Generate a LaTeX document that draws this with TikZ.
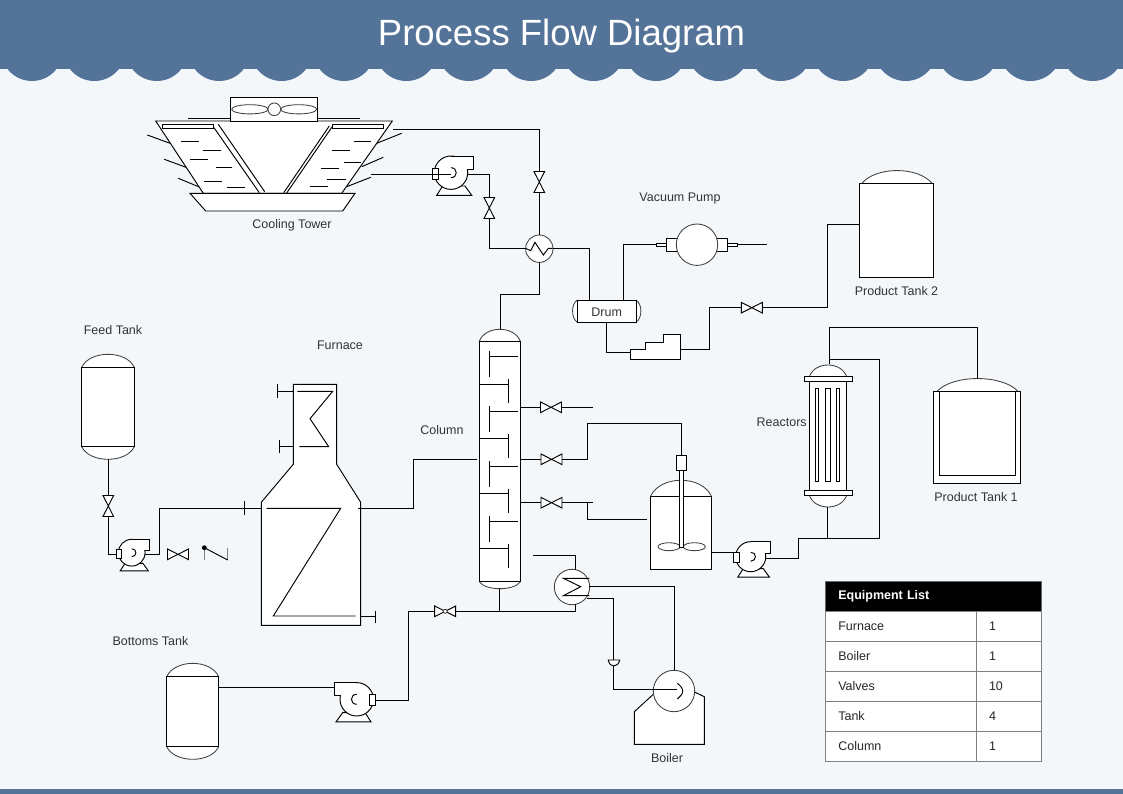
\documentclass[tikz,border=0pt]{standalone}
\usepackage{fontspec}
\setmainfont{Liberation Sans}
\definecolor{headblue}{HTML}{547398}
\definecolor{paper}{HTML}{F4F7FA}
\newcommand{\vdome}[4]{\draw[domeline] (#1) .. controls +(#3,#4) and +(-#3,#4) .. (#2);}
\tikzset{
  pipe/.style={line width=.95pt,black},
  part/.style={line width=.95pt,draw=black,fill=white},
  domeline/.style={line width=.85pt,draw=black!75,fill=white},
  vessel/.style={rectangle,line width=.95pt,draw=black,fill=white,inner sep=0pt,outer sep=0pt,font=\fontsize{12.5}{15}\selectfont,text=black!80},
  disc/.style={circle,line width=.85pt,draw=black!75,fill=white,inner sep=0pt,outer sep=0pt},
  lbl/.style={inner sep=0pt,yshift=-1pt,font=\fontsize{12.5}{15}\selectfont,text=black!80},
  tblcell/.style={rectangle,draw=black!50,line width=.8pt,fill=white,inner ysep=0pt,outer sep=0pt,minimum height=30pt,anchor=north west,align=left,font=\fontsize{12.5}{15}\selectfont,text=black!85},
  valve/.pic={
    \draw[part] (-10.5,-5.3) -- (10.5,5.3) -- (10.5,-5.3) -- (-10.5,5.3) -- cycle;
    \coordinate (-a) at (-10.5,0);
    \coordinate (-b) at (10.5,0);
  },
  pump/.pic={
    \draw[part] (-8.3,13.3) -- (-14.3,22.6) -- (20.7,22.6) -- (14,13.3) -- cycle;
    \draw[part] (0,0) circle (16.7pt);
    \fill[white] (.4,-16.3) rectangle (22,-3.6);
    \draw[pipe,fill=white] (0,-16.7) -- (22.3,-16.7) -- (22.3,-3.4) -- (16,-3.4);
    \draw[pipe] (0,-5) .. controls (7,-5) and (7,5) .. (0,5);
    \draw[part] (-18.7,-4.4) rectangle (-12.7,6.6);
    \coordinate (-in) at (-18.7,1.6);
    \coordinate (-mid) at (0,1.6);
    \coordinate (-out) at (16.7,1.6);
    \coordinate (-top) at (-16,-5);
    \coordinate (-dis) at (22.3,-11.6);
  },
  vacpump/.pic={
    \draw[part] (-40.7,-1.7) rectangle (-30.3,1.7);
    \draw[part] (40.7,-1.7) rectangle (30.3,1.7);
    \draw[part] (-30.3,-6.6) rectangle (-15,6.6);
    \draw[part] (30.3,-6.6) rectangle (15,6.6);
    \draw[domeline] (0,0) circle (20.7pt);
    \coordinate (-in) at (-40.7,0);
    \coordinate (-out) at (40.7,0);
  }
}
\begin{document}
\begin{tikzpicture}[x=1pt,y=-1pt]
\useasboundingbox (0,0) rectangle (1123,794);
\fill[paper] (0,0) rectangle (1123,794);
% banner
\fill[headblue] (0,0) rectangle (1123,69);
\foreach \k in {0,...,17} {\fill[headblue] ({32+62.4*\k},50) circle (31pt);}
\fill[headblue] (0,788.7) rectangle (1123,794);
\node[inner sep=0pt,text=white,font=\fontsize{36.5}{40}\selectfont] (ttlA) at (561.5,36) {Process Flow Diagram};
% cooling tower
\draw[pipe] (188,118.3) -- (360,118.3);
\draw[part] (155.7,121) -- (392.3,121) -- (341.7,193.3) -- (203.3,193.3) -- cycle;
\draw[part] (230.3,97.3) rectangle (317.7,121);
\draw[domeline] (249.9,109.3) ellipse (18.2pt and 4.6pt);
\draw[domeline] (298.7,109.3) ellipse (18pt and 4.6pt);
\draw[domeline] (274.3,109.3) circle (6.3pt);
\draw[part] (162.3,124.3) rectangle (213.3,128.3);
\draw[part] (332.7,124.3) rectangle (383.3,128.3);
\draw[pipe] (214,127.7) -- (259.3,192.7) (218.3,124.3) -- (264.7,191.7);
\draw[pipe] (332.7,126) -- (286.7,193) (329.3,126) -- (283.7,192.7);
\foreach \xa/\xb/\yy in {181/198.7/141.3,203.3/220.7/150.3,190/207.7/159.3,215.7/232.3/167.3,204.3/221.7/181,227.3/244.7/187.3,
  353.7/371.3/141.3,331.7/349.7/150.3,343.7/360.7/162,321.3/338.7/168.3,327.3/345.7/179.3,310/327.7/186.3}
  {\draw[pipe] (\xa,\yy) -- (\xb,\yy);}
\foreach \xa/\ya/\xb/\yb in {147.3/135/170/143.3,164.3/159.3/186/167.3,178.3/178.3/200/187.3,
  401.7/133.3/376.7/143.3,383.3/157.3/361.7/166.7,370.7/177.3/346.7/186.7}
  {\draw[pipe] (\xa,\ya) -- (\xb,\yb);}
\draw[part] (190,193.3) -- (355,193.3) -- (342.7,211) -- (205.7,211) -- cycle;
\coordinate (twrA) at (393.3,129.3);
\coordinate (twrB) at (370.7,174.3);
\node[lbl] (lblTwr) at (292,224.5) {Cooling Tower};
% equipment along the top
\pic (pumpA) at (451,172.7) {pump};
\pic[rotate=90] (valA) at (539.3,182) {valve};
\pic[rotate=90] (valB) at (489.3,208) {valve};
\node[disc,minimum size=27.4pt] (hxA) at (539.3,248.7) {};
\draw[pipe] (526,248.5) -- (530.7,250.7) -- (535,242.3) -- (543.3,255) -- (548.3,248.3) -- (552.7,248.3);
\draw[domeline] (577.3,300) .. controls (571,304) and (571,318) .. (577.3,322.3);
\draw[domeline] (636,300) .. controls (642.5,304) and (642.5,318) .. (636,322.3);
\node[vessel,minimum width=58.7pt,minimum height=22.3pt,text height=11pt,text depth=.4pt] (drmA) at (606.65,311.15) {Drum};
\coordinate (drmL) at (589.3,300);
\coordinate (drmR) at (623.7,300);
\pic (vacA) at (697,244.7) {vacpump};
\coordinate (vacZ) at (767.3,244.7);
\node[lbl] (lblVac) at (680,197.5) {Vacuum Pump};
\draw[part] (630.7,349.7) -- (645.7,349.7) -- (645.7,342.7) -- (663.7,342.7) -- (663.7,334.7) -- (680.3,334.7) -- (680.3,359.3) -- (630.7,359.3) -- cycle;
\coordinate (stpL) at (630.7,352);
\coordinate (stpR) at (680.3,349.3);
\pic (valD) at (751.8,307.7) {valve};
% product tanks
\vdome{862,183.3}{932,183.3}{14}{-17}
\node[vessel,minimum width=74pt,minimum height=94pt] (tnkB) at (896.3,230.3) {};
\coordinate (tnkBin) at (859.3,224.3);
\node[lbl] (lblTnkB) at (896.5,290.5) {Product Tank 2};
\vdome{937,391.3}{1018,391.3}{16}{-17}
\node[vessel,minimum width=87.4pt,minimum height=92pt] (tnkA) at (977,437.3) {};
\draw[part] (939.3,391.3) rectangle (1015.7,475.3);
\coordinate (tnkAt) at (977.3,378.7);
\node[lbl] (lblTnkA) at (976,496.5) {Product Tank 1};
% reactor
\vdome{809.3,377}{846.7,377}{5}{-16}
\vdome{809.3,495}{846.7,495}{5}{16}
\node[vessel,minimum width=37.4pt,minimum height=110pt] (rctA) at (828,436) {};
\draw[part] (804.3,376.7) rectangle (852.3,381.3);
\draw[part] (804.3,490.7) rectangle (852.3,495.3);
\foreach \xa/\xb in {815.3/818.7,825.3/830.7,836.3/839.7} {\draw[part] (\xa,388.3) rectangle (\xb,481.3);}
\coordinate (rctT) at (829.3,364.3);
\coordinate (rctS) at (829.3,359.3);
\coordinate (rctB) at (827.3,507.3);
\coordinate (rctK) at (879.3,538.3);
\coordinate (rctJ) at (798.3,538.3);
\node[lbl] (lblRct) at (781.7,421.3) {Reactors};
% mixer
\vdome{650.7,496}{711.3,496}{10}{-21}
\node[vessel,minimum width=60.6pt,minimum height=73.3pt] (mixA) at (681,532.65) {};
\draw[domeline] (669,546.7) ellipse (11pt and 4pt);
\draw[domeline] (694.3,546.7) ellipse (11pt and 4pt);
\draw[part] (679.3,470.3) rectangle (683.7,547.3);
\node[vessel,minimum width=10.4pt,minimum height=15pt] (mtrA) at (681.5,462.8) {};
\coordinate (mixT) at (587.3,423.3);
\coordinate (mixB) at (587.3,502.7);
\coordinate (mixL) at (646.7,519.3);
\pic[scale=.9] (pumpE) at (750.7,556.7) {pump};
% column
\vdome{479.3,341.3}{520.3,341.3}{6}{-16}
\vdome{479.3,581.7}{520.3,581.7}{6}{9.3}
\node[vessel,minimum width=41pt,minimum height=240.4pt] (colA) at (499.8,461.5) {};
\foreach \k [evaluate=\k as \ya using 356+55*\k, evaluate=\k as \yb using 384+54.9*\k] in {0,1,2,3} {
  \draw[pipe] (489.3,\ya-5) -- ++(0,25.7) (489.3,\ya) -- (518.3,\ya);
  \draw[pipe] (479.3,\yb) -- (508.7,\yb) (508.7,\yb-4.7) -- ++(0,24);
}
\coordinate (colT) at (500.3,329.3);
\coordinate (colB) at (499.7,588.7);
\coordinate (colL) at (476.7,459.3);
\node[lbl] (lblCol) at (442,429.3) {Column};
\pic (valF) at (551,407.3) {valve};
\pic (valE) at (551.5,459.3) {valve};
\pic (valC) at (551.5,502.7) {valve};
\coordinate (valFz) at (593.3,407.3);
\coordinate (valCz) at (593.3,502.7);
% feed side
\vdome{81.7,367.3}{134.3,367.3}{8}{-17.3}
\vdome{81.7,446.7}{134.3,446.7}{8}{16.8}
\node[vessel,minimum width=52.6pt,minimum height=79.4pt] (tnkC) at (108,407) {};
\coordinate (tnkCb) at (108.3,459.3);
\node[lbl] (lblTnkC) at (113,329.3) {Feed Tank};
\pic[rotate=90] (valH) at (108.3,506) {valve};
\pic[scale=.8] (pumpB) at (131.7,552.7) {pump};
\pic (valJ) at (178,554.3) {valve};
\draw[black!50,line width=.8pt] (204.3,547.7) -- (204.3,560) (227.7,548.3) -- (227.7,560);
\draw[pipe] (204.3,547.7) -- (227.7,560);
\fill[black] (204.3,547.7) circle (2.4pt);
% furnace
\draw[part] (293.3,384.3) -- (336.7,384.3) -- (336.7,464.3) -- (360.7,502.3) -- (360.7,625.3) -- (261.3,625.3) -- (261.3,502.3) -- (293.3,464.3) -- cycle;
\draw[pipe] (297.3,391.3) -- (332.7,391.3) -- (310,418.7) -- (328.7,446.7) -- (299.3,446.7);
\draw[pipe] (266.7,508.3) -- (340.7,508.3) -- (273.3,616) -- (355.7,616);
\draw[pipe] (293.3,391.7) -- (277.3,391.7) (277.3,384.3) -- (277.3,398.3);
\draw[pipe] (293.3,446.7) -- (279,446.7) (279,439.7) -- (279,453.3);
\draw[pipe] (360.7,616) -- (375.3,616) (375.3,610.7) -- (375.3,623.3);
\draw[pipe] (244.3,501) -- (244.3,515.3);
\coordinate (furW) at (261.3,508.3);
\coordinate (furE) at (358.3,508.3);
\node[lbl] (lblFur) at (340,344.3) {Furnace};
% bottoms side
\vdome{166.7,676.7}{218.7,676.7}{8}{-17.8}
\vdome{166.7,746.7}{218.7,746.7}{8}{16.8}
\node[vessel,minimum width=52pt,minimum height=70pt] (tnkD) at (192.7,711.7) {};
\node[lbl] (lblTnkD) at (150.5,640.5) {Bottoms Tank};
\pic[xscale=-1] (pumpC) at (356.7,699.3) {pump};
\pic (valG) at (445.2,611.3) {valve};
\node[disc,minimum size=4pt] (valGc) at (445.2,611.3) {};
% reboiler and boiler
\node[disc,minimum size=35.4pt] (hxB) at (572,587) {};
\draw[pipe] (589.3,578.3) -- (563.3,578.3) -- (580.7,586.7) -- (563.3,595.7) -- (589.3,595.7);
\coordinate (hxBt) at (575.5,570);
\coordinate (hxBb) at (575.5,604);
\coordinate (hxBf) at (533.3,555.3);
\coordinate (hxBr) at (589.3,586);
\coordinate (hxBs) at (586.7,598.3);
\draw[part] (653.3,694.3) -- (634.3,711.7) -- (634.3,744.3) -- (704.3,744.3) -- (704.3,696.7) -- (695,692.3);
\node[disc,minimum size=41.4pt] (blrA) at (674,691) {};
\draw[pipe] (677.3,683.3) .. controls (681,686) and (683,689) .. (682.7,691.7) .. controls (682.5,694) and (680,697) .. (677.3,699);
\coordinate (blrC) at (676.7,689.3);
\node[lbl] (lblBlr) at (667,757.5) {Boiler};
\coordinate (trpA) at (613.7,660);
\coordinate (trpB) at (613.7,666);
\draw[part] (608.3,660) -- (619.7,660) .. controls (619,664) and (616,666) .. (613.7,666) .. controls (611,666) and (609,664) .. (608.3,660) -- cycle;
% pipes
\draw[pipe] (twrB) -- (pumpA-mid);
\draw[pipe] (pumpA-out) -| (valB-b);
\draw[pipe] (valB-a) |- (hxA.west);
\draw[pipe] (hxA.north) -- (valA-a);
\draw[pipe] (valA-b) |- (twrA);
\draw[pipe] (hxA.south) -- ++(0,31.6) -| (colT);
\draw[pipe] (hxA.east) -| (drmL);
\draw[pipe] (drmR) |- (vacA-in);
\draw[pipe] (vacA-out) -- (vacZ);
\draw[pipe] (drmA.south) |- (stpL);
\draw[pipe] (stpR) -- ++(29,0) |- (valD-a);
\draw[pipe] (valD-b) -- ++(65.5,0) |- (tnkBin);
\draw[pipe] (tnkAt) -- ++(0,-51.4) -| (rctT);
\draw[pipe] (rctS) -| (rctK) -- (rctJ) |- (pumpE-out);
\draw[pipe] (rctB) -- (rctB |- rctJ);
\draw[pipe] (pumpE-top -| mixA.east) -- (pumpE-top);
\draw[pipe] (colA.east |- valF-a) -- (valF-a);
\draw[pipe] (valF-b) -- (valFz);
\draw[pipe] (colA.east |- valE-a) -- (valE-a);
\draw[pipe] (valE-b) -| (mixT) -| (mtrA.north);
\draw[pipe] (colA.east |- valC-a) -- (valC-a);
\draw[pipe] (valC-b) -- (valCz);
\draw[pipe] (mixB) |- (mixL);
\draw[pipe] (furE) -| (colL -| 413.3,0) |- (colL);
\draw[pipe] (tnkCb) -- (valH-b);
\draw[pipe] (valH-a) |- (pumpB-in);
\draw[pipe] (pumpB-out) -- ++(14.3,0) |- (furW);
\draw[pipe] (colB) -- (colB |- valG-b);
\draw[pipe] (valG-b) -| (hxBb);
\draw[pipe] (hxBf) -| (hxBt);
\draw[pipe] (valG-a) -- ++(-26,0) |- (pumpC-in);
\draw[pipe] (tnkD.east |- pumpC-dis) -- (pumpC-dis);
\draw[pipe] (hxBr) -| (blrA.north);
\draw[pipe] (hxBs) -| (trpA);
\draw[pipe] (trpB) |- (blrC);
% equipment list
\node[tblcell,fill=black,draw=black!60,text=white,minimum width=216pt,inner xsep=12.6pt,text width=190.8pt,font=\fontsize{12.5}{15}\selectfont\bfseries] (cellH) at (825.7,581.3) {Equipment List};
\foreach \i/\nm/\val in {0/Furnace/1,1/Boiler/1,2/Valves/10,3/Tank/4,4/Column/1} {
  \node[tblcell,inner xsep=12.6pt,text width=125.4pt] (cellA\i) at (825.7,{611.3+30*\i}) {\nm};
  \node[tblcell,inner xsep=12.7pt,text width=40pt] (cellB\i) at (976.3,{611.3+30*\i}) {\val};
}
\end{tikzpicture}
\end{document}
